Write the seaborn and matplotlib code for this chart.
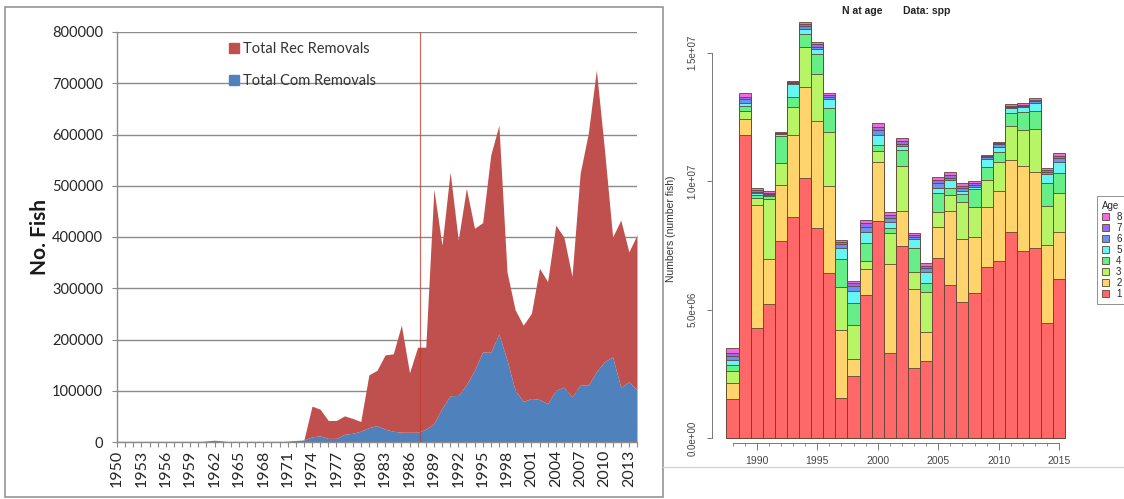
import matplotlib
matplotlib.use("Agg")
import numpy as np
import matplotlib.pyplot as plt
import seaborn as sns
from matplotlib.lines import Line2D
from matplotlib.patches import Patch, Rectangle

sns.set_style("white")
plt.rcParams["font.family"] = ["Lato", "DejaVu Sans"]

# ---- left panel: removals (fish), 1950-2014 ----
years_rem = list(range(1950, 2015))
com_removals = [0] * 11 + [2000, 3500, 2000, 0, 0, 0, 0, 0, 0, 500, 1500, 3000, 4000,
    10000, 12000, 7000, 7000, 15000, 17000, 21000, 28000, 32000, 25000, 21000,
    19000, 19000, 19000, 25000, 36000, 66000, 90000, 91000, 112000, 140000,
    176000, 175000, 211000, 160000, 101000, 79000, 85000, 83000, 75000, 101000,
    107000, 88000, 111000, 111000, 137000, 157000, 166000, 107000, 118000, 101000]
rec_removals = [0] * 24 + [
    60000, 52000, 35000, 35000, 36000, 29000, 19000, 103000, 108000, 145000,
    151000, 209000, 116000, 166000, 160000, 457000, 318000, 437000, 303000,
    383000, 277000, 252000, 385000, 407000, 172000, 157000, 149000, 166000,
    256000, 238000, 322000, 293000, 235000, 413000, 491000, 589000, 413000,
    234000, 326000, 253000, 303000]
marker_year = 1987.3

# ---- right panel: N at age, stack tops (millions), 1988-2015 ----
years_n = list(range(1988, 2016))
cum_age1 = [1.53, 11.80, 4.28, 5.23, 7.68, 8.62, 10.12, 8.19, 6.44, 1.56, 2.42, 5.58, 8.47, 3.31,
            7.48, 2.72, 3.02, 7.03, 5.97, 5.32, 5.64, 6.68, 6.90, 8.04, 7.30, 7.39, 4.50, 6.19]
cum_age2 = [2.16, 12.42, 9.08, 6.98, 9.86, 11.80, 13.66, 12.35, 9.82, 4.21, 3.09, 6.58, 10.74, 6.78,
            8.84, 5.80, 4.15, 8.23, 8.84, 7.74, 7.82, 8.99, 9.62, 10.83, 10.60, 10.37, 7.52, 8.04]
cum_age3 = [2.62, 12.74, 9.34, 9.31, 10.72, 12.88, 15.24, 14.16, 11.91, 5.90, 4.41, 6.91, 11.19, 7.98,
            10.61, 6.48, 5.68, 8.82, 9.47, 9.18, 9.01, 10.05, 10.74, 12.16, 12.00, 12.02, 9.05, 9.56]
cum_age4 = [2.86, 12.93, 9.47, 9.43, 11.78, 13.29, 15.72, 14.94, 12.86, 6.97, 5.25, 7.61, 11.40, 8.19,
            11.22, 7.39, 6.05, 9.56, 9.75, 9.49, 9.69, 10.57, 11.15, 12.67, 12.68, 12.74, 9.92, 10.33]
cum_age5 = [3.05, 13.06, 9.53, 9.47, 11.83, 13.79, 15.91, 15.14, 13.20, 7.39, 5.74, 8.02, 11.80, 8.43,
            11.38, 7.74, 6.48, 9.73, 10.05, 9.63, 9.79, 10.86, 11.35, 12.84, 12.88, 13.06, 10.28, 10.76]
cum_age6 = [3.20, 13.19, 9.60, 9.50, 11.86, 13.83, 16.04, 15.24, 13.29, 7.56, 5.93, 8.23, 12.00, 8.56,
            11.45, 7.82, 6.62, 9.95, 10.14, 9.73, 9.86, 10.93, 11.44, 12.90, 12.93, 13.11, 10.37, 10.89]
cum_age7 = [3.33, 13.29, 9.66, 9.56, 11.89, 13.86, 16.12, 15.33, 13.36, 7.65, 6.03, 8.37, 12.12, 8.69,
            11.55, 7.90, 6.70, 10.05, 10.25, 9.82, 9.92, 10.98, 11.48, 12.94, 12.97, 13.16, 10.44, 10.98]
cum_age8 = [3.50, 13.42, 9.75, 9.63, 11.93, 13.89, 16.19, 15.41, 13.45, 7.72, 6.12, 8.49, 12.28, 8.81,
            11.70, 7.98, 6.83, 10.16, 10.37, 9.95, 10.02, 11.02, 11.54, 13.00, 13.04, 13.23, 10.51, 11.09]
age_labels = ["1", "2", "3", "4", "5", "6", "7", "8"]
age_colors = ["#FF6868", "#FFD46C", "#B8F566", "#66EE88", "#66F5F2", "#6A90F2", "#9C6AEE", "#F26AE0"]

W, H = 1124, 499
fig = plt.figure(figsize=(W / 100, H / 100), dpi=100)


def fx(px):
    return px / W


def fy(py):
    return 1 - py / H


# frames of the two screenshots
fig.add_artist(Rectangle((fx(5), fy(497)), fx(662.7 - 5), (497 - 7) / H, transform=fig.transFigure,
                         fill=False, ec="#8c8c8c", lw=1.1))
fig.add_artist(Line2D([fx(663), 1], [fy(467), fy(467)], transform=fig.transFigure, color="#d4d4d4", lw=1))

# ---------- left chart ----------
rec_red, com_blue = "#C0504D", "#4F81BD"
grey = "#8a8a8a"
ax1 = fig.add_axes([fx(117), fy(442), (637 - 117) / W, (442 - 32) / H])
ax1.stackplot(years_rem, com_removals, rec_removals, colors=[com_blue, rec_red], lw=0, zorder=2)
ax1.axvline(marker_year, color="#c0392b", lw=0.9, alpha=0.75, zorder=3)
ax1.set_xlim(1950, 2014)
ax1.set_ylim(0, 800000)
ax1.set_yticks(range(0, 800001, 100000))
ax1.set_yticklabels([str(v) for v in range(0, 800001, 100000)])
ax1.yaxis.grid(True, color=grey, lw=1, zorder=0)
ax1.set_axisbelow(True)
ax1.set_xticks(range(1950, 2014, 3))
ax1.set_xticks(range(1950, 2015), minor=True)
ax1.tick_params(axis="x", which="both", direction="out", length=3.6, width=0.8, color=grey,
                labelsize=11.5, labelrotation=90, pad=2, labelcolor="#262626")
ax1.tick_params(axis="y", direction="out", length=3.6, width=0.8, color=grey,
                labelsize=10.5, pad=6.5, labelcolor="#262626")
ax1.tick_params(left=True, bottom=True)
ax1.tick_params(axis="x", which="minor", bottom=True)
for s in ["top", "right"]:
    ax1.spines[s].set_visible(False)
for s in ["left", "bottom"]:
    ax1.spines[s].set_color(grey)
    ax1.spines[s].set_linewidth(1)
ax1.set_ylabel("No. Fish", fontsize=15, fontweight="bold", color="#1a1a1a")
ax1.yaxis.set_label_coords(-0.128, 0.5)
handles = [Line2D([], [], marker="s", ls="", color=rec_red, markersize=7),
           Line2D([], [], marker="s", ls="", color=com_blue, markersize=7)]
fig.legend(handles, ["Total Rec Removals", "Total Com Removals"], loc="upper left",
           bbox_to_anchor=(fx(230), fy(42)), bbox_transform=fig.transFigure, frameon=False,
           fontsize=10.5, handlelength=0.6, handletextpad=0.3, labelspacing=1.25,
           borderpad=0, borderaxespad=0, labelcolor="#333333")

# ---------- right chart ----------
px_per_val = 38911.0
ax2 = fig.add_axes([fx(712.3), fy(443.3), (1079 - 712.3) / W, (443.3 - 15) / H])
layers = [cum_age1, cum_age2, cum_age3, cum_age4, cum_age5, cum_age6, cum_age7, cum_age8]
for k in range(7, -1, -1):
    vals = np.array(layers[k]) * 1e6
    sns.barplot(x=years_n, y=vals, native_scale=True, width=1, color=age_colors[k],
                saturation=1, edgecolor="#5e4636", linewidth=0.6, errorbar=None, ax=ax2)
ax2.set_xlim(1986.33, 1986.33 + (1079 - 712.3) / 12.1)
ax2.set_ylim(-(443.3 - 438.3) * px_per_val, (438.3 - 15) * px_per_val)
ax2.set_yticks([0, 5e6, 1e7, 1.5e7])
ax2.set_yticklabels(["0.0e+00", "5.0e+06", "1.0e+07", "1.5e+07"], rotation=90, va="center")
ax2.set_xticks([1990, 1995, 2000, 2005, 2010, 2015])
ax2.set_xticklabels(["1990", "1995", "2000", "2005", "2010", "2015"])
ax2.set_xticks(years_n, minor=True)
ax2.tick_params(axis="y", direction="out", length=3.6, width=0.7, color="#777777",
                labelsize=7, pad=7, labelcolor="#444444", left=True)
ax2.tick_params(axis="x", which="major", direction="out", length=5, width=0.7, color="#777777",
                labelsize=7.5, pad=4.5, labelcolor="#444444", bottom=True)
ax2.tick_params(axis="x", which="minor", direction="out", length=2.2, width=0.6, color="#777777",
                bottom=True)
for s in ["top", "right"]:
    ax2.spines[s].set_visible(False)
ax2.spines["left"].set_bounds(0, 1.5e7)
ax2.spines["bottom"].set_bounds(1988, 2015)
for s in ["left", "bottom"]:
    ax2.spines[s].set_color("#777777")
    ax2.spines[s].set_linewidth(0.7)
ax2.set_xlabel("")
ax2.set_ylabel("Numbers (number fish)", fontsize=7.5, color="#333333", family=["Liberation Sans"])
ax2.yaxis.set_label_coords(-0.098, 0.5)
for lab in ax2.get_xticklabels() + ax2.get_yticklabels():
    lab.set_family(["Liberation Sans"])

fig.text(fx(842), fy(11), "N at age", fontsize=7.5, fontweight="bold", va="center",
         family=["Liberation Sans"], color="#222222")
fig.text(fx(903), fy(11), "Data: spp", fontsize=7.5, fontweight="bold", va="center",
         family=["Liberation Sans"], color="#222222")

age_handles = [Patch(facecolor=age_colors[k], edgecolor="#5e4636", lw=0.6) for k in range(7, -1, -1)]
leg = fig.legend(age_handles, age_labels[::-1], title="Age", loc="upper left",
                 bbox_to_anchor=(fx(1096.7), fy(196)), bbox_transform=fig.transFigure,
                 fontsize=7, title_fontsize=7, handlelength=0.8, handleheight=0.8,
                 handletextpad=0.7, labelspacing=0.1, borderpad=0.5, borderaxespad=0,
                 fancybox=False, alignment="left", prop={"family": "Liberation Sans", "size": 7})
leg.get_frame().set_edgecolor("#777777")
leg.get_frame().set_linewidth(0.7)
leg.get_title().set_family("Liberation Sans")

fig.savefig("out.png", dpi=100)
